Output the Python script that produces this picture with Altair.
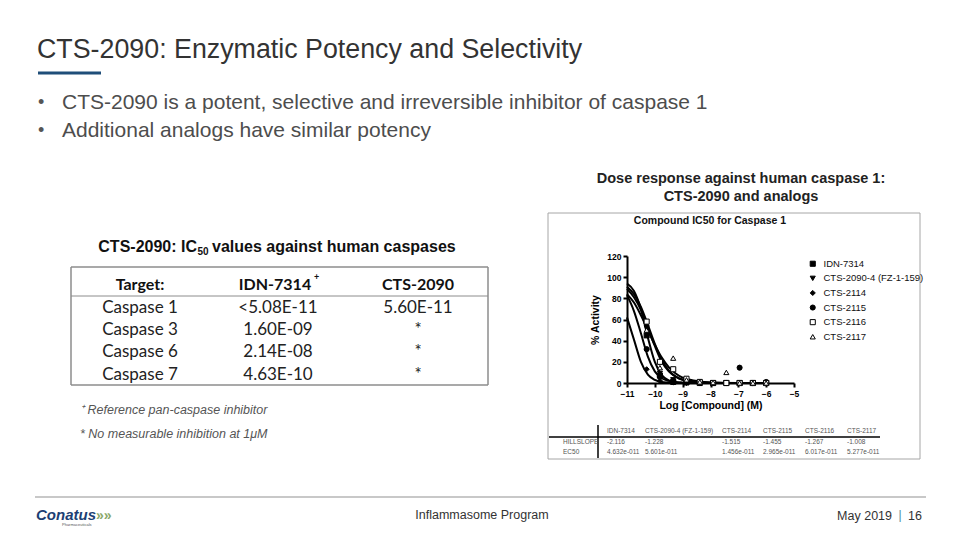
import altair as alt
import pandas as pd

# ---------------- data ----------------
compounds = ["IDN-7314", "CTS-2090-4 (FZ-1-159)", "CTS-2114", "CTS-2115", "CTS-2116", "CTS-2117"]
log_conc = [-10.294, -9.817, -9.34, -8.863, -8.385, -7.908, -7.431, -6.954, -6.477, -6.0]
activity = {
    "IDN-7314":               [45, 7, 1, 0.5, 0, 0, 0, 0, 0, 0],
    "CTS-2090-4 (FZ-1-159)":  [52, 9, 3, 1, 0.5, 0, 0, 0, 0, 0],
    "CTS-2114":               [13, 2, 0.5, 0, 0, 0, 0, 0, 0, 0],
    "CTS-2115":               [32, 6, 2, 1, 0, 0, 0, 14.5, 0, 1],
    "CTS-2116":               [58, 20, 13, 4, 1, 0, 0, 0, 0, 0],
    "CTS-2117":               [50, 14.5, 23.5, 3, 1, 0.5, 10, 0, 0, 0],
}
curve_x = [-11, -10.75, -10.5, -10.25, -10, -9.75, -9.5, -9.25, -9, -8.5, -8, -7, -6]
curve_y = {
    "IDN-7314":               [94, 87, 70, 43, 20, 7.5, 2.5, 1, 0.3, 0, 0, 0, 0],
    "CTS-2090-4 (FZ-1-159)":  [89, 81, 69, 52, 35, 20, 11, 6, 3, 1, 0.3, 0, 0],
    "CTS-2114":               [62, 41, 20, 8, 3, 1, 0.4, 0, 0, 0, 0, 0, 0],
    "CTS-2115":               [83, 68, 47, 25, 11, 4.5, 2, 0.7, 0.3, 0, 0, 0, 0],
    "CTS-2116":               [91, 84, 72, 55, 37, 22, 12, 6, 3, 1, 0.2, 0, 0],
    "CTS-2117":               [84, 76, 64, 50, 36, 24, 15, 9, 5, 2, 0.5, 0, 0],
}
x_ticks = [-11, -10, -9, -8, -7, -6, -5]
y_ticks = [0, 20, 40, 60, 80, 100, 120]

stat_rows = ["HILLSLOPE", "EC50"]
hillslope = ["-2.116", "-1.228", "-1.515", "-1.455", "-1.267", "-1.008"]
ec50 = ["4.632e-011", "5.601e-011", "1.456e-011", "2.965e-011", "6.017e-011", "5.277e-011"]

table_header = ["Target:", "IDN-7314", "CTS-2090"]
table_targets = ["Caspase 1", "Caspase 3", "Caspase 6", "Caspase 7"]
table_idn = ["<5.08E-11", "1.60E-09", "2.14E-08", "4.63E-10"]
table_cts = ["5.60E-11", "*", "*", "*"]

shapes = ["square", "triangle-down", "diamond", "circle", "square", "triangle-up"]
fills = ["black", "black", "black", "black", "white", "white"]
strokes = ["black"] * 6

# ---------------- layout helpers ----------------
OX, OY = 627, 256      # plot origin on the slide
PW, PH = 167, 127      # plot size
SANS = "Liberation Sans"
CAL = "Lato"


def T(text, X, Y, size, color="#000000", weight="normal", style="normal",
      align="left", font=SANS, baseline="middle"):
    return alt.Chart(pd.DataFrame({"t": [text]})).mark_text(
        align=align, baseline=baseline, fontSize=size, font=font,
        fontWeight=weight, fontStyle=style, color=color
    ).encode(text="t:N", x=alt.value(X - OX), y=alt.value(Y - OY))


def R(X1, Y1, X2, Y2, color="#000000", w=1.0):
    return alt.Chart(pd.DataFrame({"a": [0]})).mark_rule(
        color=color, strokeWidth=w
    ).encode(x=alt.value(X1 - OX), x2=alt.value(X2 - OX),
             y=alt.value(Y1 - OY), y2=alt.value(Y2 - OY))


def BOX(X1, Y1, X2, Y2, color, w):
    return [R(X1, Y1, X2, Y1, color, w), R(X1, Y2, X2, Y2, color, w),
            R(X1, Y1, X1, Y2, color, w), R(X2, Y1, X2, Y2, color, w)]


layers = []

# slide title and bullets
layers.append(T("CTS-2090:  Enzymatic Potency and Selectivity", 37, 50, 26.8, "#333333"))
layers.append(R(38, 73, 101, 73, "#1f4e79", 3))
layers.append(T("•", 38, 103, 18, "#555555"))
layers.append(T("CTS-2090 is a potent, selective and irreversible inhibitor of caspase 1", 62, 103, 21, "#4d4d4d"))
layers.append(T("•", 38, 131, 18, "#555555"))
layers.append(T("Additional analogs have similar potency", 62, 131, 21, "#4d4d4d"))

# left table
layers.append(T("CTS-2090: IC", 197, 247, 16, "#111111", weight="bold", align="right"))
layers.append(T("50", 197.5, 252, 10, "#111111", weight="bold"))
layers.append(T("values against human caspases", 212, 247, 16, "#111111", weight="bold"))
layers += BOX(71, 267, 488, 385, "#8c8c8c", 1.5)
layers.append(R(71, 296, 488, 296, "#8c8c8c", 1))
col_x = [140, 275, 418]
layers.append(T(table_header[0], col_x[0], 285, 16, "#111111", weight="bold", align="center", font=CAL))
layers.append(T(table_header[1], col_x[1], 285, 16, "#111111", weight="bold", align="center", font=CAL))
layers.append(T("+", 314, 277, 9, "#111111", weight="bold", font=CAL))
layers.append(T(table_header[2], col_x[2], 285, 16, "#111111", weight="bold", align="center", font=CAL))
row_y = [308, 330, 352, 375]
for i in range(4):
    layers.append(T(table_targets[i], col_x[0], row_y[i], 17, "#222222", align="center", font=CAL))
    layers.append(T(table_idn[i], col_x[1] + 3, row_y[i], 17, "#222222", align="center", font=CAL))
    layers.append(T(table_cts[i], col_x[2], row_y[i], 17, "#222222", align="center", font=CAL))
layers.append(T("⁺ Reference pan-caspase inhibitor", 80, 410, 12.5, "#555555", style="italic"))
layers.append(T("* No measurable inhibition at 1μM", 80, 434, 12.5, "#555555", style="italic"))

# right chart heading and frame
layers.append(T("Dose response against human caspase 1:", 741, 179, 14.5, "#222222", weight="bold", align="center"))
layers.append(T("CTS-2090 and analogs", 741, 197, 14.5, "#222222", weight="bold", align="center"))
layers += BOX(548, 213, 920, 459, "#a6a6a6", 1)
layers.append(T("Compound IC50 for Caspase 1", 710, 221, 10.5, "#111111", weight="bold", align="center"))

# stat table under the plot
layers.append(R(598, 425, 598, 458, "#000000", 1.5))
layers.append(R(549, 437, 880, 437, "#000000", 1.5))
stat_x = [607, 645, 722, 763, 805, 847]
for i in range(6):
    layers.append(T(compounds[i], stat_x[i], 431, 6.5, "#555555"))
    layers.append(T(hillslope[i], stat_x[i], 442, 6.5, "#555555"))
    layers.append(T(ec50[i], stat_x[i], 452, 6.5, "#555555"))
layers.append(T(stat_rows[0], 563, 442, 6.5, "#555555"))
layers.append(T(stat_rows[1], 563, 452, 6.5, "#555555"))

# footer
layers.append(R(35, 497, 926, 497, "#c8c8c8", 2))
layers.append(T("Conatus", 36, 515, 15, "#1c3f74", weight="bold", style="italic"))
layers.append(T("»»", 96, 516, 14, "#8aa86a", weight="bold"))
layers.append(T("Pharmaceuticals", 62, 525, 4, "#555555"))
layers.append(T("Inflammasome Program", 482, 515, 12.5, "#333333", align="center"))
layers.append(T("May 2019", 892, 516, 12.5, "#333333", align="right"))
layers.append(T("|", 900, 515, 12, "#4a8fa0", align="center"))
layers.append(T("16", 922, 516, 12.5, "#333333", align="right"))

# ---------------- main plot ----------------
pts = pd.DataFrame([
    {"compound": c, "logc": x, "act": y}
    for c in compounds for x, y in zip(log_conc, activity[c])
])
crv = pd.DataFrame([
    {"compound": c, "logc": x, "act": y}
    for c in compounds for x, y in zip(curve_x, curve_y[c])
])

xscale = alt.Scale(domain=[-11, -5], nice=False, zero=False)
yscale = alt.Scale(domain=[0, 120], nice=False)
common_axis = dict(format="d", domainColor="black", domainWidth=2, tickColor="black",
                   tickWidth=2, tickSize=4, labelFont=SANS, labelFontSize=8.5,
                   labelFontWeight="bold", labelColor="black", titleFont=SANS,
                   titleFontSize=10.5, titleFontWeight="bold", titleColor="black",
                   labelPadding=2, grid=False, labelFlush=False, labelOverlap=False)
xaxis = alt.Axis(values=x_ticks, title="Log [Compound] (M)", titlePadding=3, **common_axis)
yaxis = alt.Axis(values=y_ticks, title="% Activity", titlePadding=6, **common_axis)

curves = alt.Chart(crv).mark_line(color="black", strokeWidth=2, interpolate="monotone").encode(
    x=alt.X("logc:Q", scale=xscale, axis=xaxis),
    y=alt.Y("act:Q", scale=yscale, axis=yaxis),
    detail="compound:N",
    order="logc:Q",
)

legend = alt.Legend(title=None, orient="none", legendX=181, legendY=3,
                    labelFont=SANS, labelFontSize=9.5, labelColor="#111111",
                    rowPadding=3.6, symbolSize=26, symbolStrokeWidth=1,
                    labelOffset=6, labelLimit=200)

points = alt.Chart(pts).mark_point(size=26, strokeWidth=1, opacity=1).encode(
    x=alt.X("logc:Q", scale=xscale, axis=xaxis),
    y=alt.Y("act:Q", scale=yscale, axis=yaxis),
    shape=alt.Shape("compound:N", scale=alt.Scale(domain=compounds, range=shapes), legend=legend),
    fill=alt.Fill("compound:N", scale=alt.Scale(domain=compounds, range=fills), legend=legend),
    stroke=alt.Stroke("compound:N", scale=alt.Scale(domain=compounds, range=strokes), legend=legend),
)

chart = alt.layer(*layers, curves, points).properties(
    width=PW, height=PH,
    autosize=alt.AutoSizeParams(type="none"),
    padding={"left": OX, "top": OY, "right": 960 - OX - PW, "bottom": 540 - OY - PH},
    background="white",
).configure_view(stroke=None).configure_axis(labelOverlap=False, labelSeparation=0)

chart.save("out.html", embed_options={"renderer": "svg", "actions": False})
